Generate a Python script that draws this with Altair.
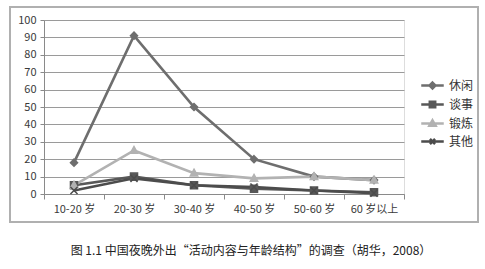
import altair as alt
import pandas as pd

ages = ["10-20 岁", "20-30 岁", "30-40 岁", "40-50 岁", "50-60 岁", "60 岁以上"]
series_names = ["休闲", "谈事", "锻炼", "其他"]
leisure = [18, 91, 50, 20, 10, 8]
talk = [5, 10, 5, 3, 2, 1]
exercise = [5, 25, 12, 9, 10, 8]
other = [2, 9, 5, 4, 2, 0.5]
y_ticks = list(range(0, 101, 10))
caption = "图 1.1  中国夜晚外出“活动内容与年龄结构”的调查（胡华，2008）"

colors = ["#6e6e6e", "#585858", "#b2b2b2", "#4c4c4c"]
marker_paths = [
    "M0,-1L1,0L0,1L-1,0Z",
    "M-1,-1H1V1H-1Z",
    "M0,-1.1L1.05,0.8H-1.05Z",
    "M-1,-1L1,1M-1,1L1,-1",
]
legend_paths = [
    "M-1.25,0H1.25M0,-0.33L0.33,0L0,0.33L-0.33,0Z",
    "M-1.25,0H1.25M-0.3,-0.3H0.3V0.3H-0.3Z",
    "M-1.25,0H1.25M0,-0.35L0.35,0.26H-0.35Z",
    "M-1.25,0H1.25M-0.28,-0.28L0.28,0.28M-0.28,0.28L0.28,-0.28",
]

rows = []
for name, vals in zip(series_names, [leisure, talk, exercise, other]):
    for a, v in zip(ages, vals):
        rows.append({"age": a, "series": name, "value": v})
df = pd.DataFrame(rows)

FONT = "Noto Sans CJK SC"

x_enc = alt.X(
    "age:N", sort=ages, title=None,
    scale=alt.Scale(domain=ages, paddingInner=0, paddingOuter=0),
    axis=alt.Axis(labelAngle=0, tickBand="extent", tickSize=5, labelPadding=4,
                  domainColor="#8a8a8a", tickColor="#8a8a8a", labelColor="#3a3a3a",
                  labelFont=FONT, labelFontSize=11, grid=False),
)
y_enc = alt.Y(
    "value:Q", title=None,
    scale=alt.Scale(domain=[0, 100], nice=False),
    axis=alt.Axis(values=y_ticks, tickSize=4, labelPadding=4, domainColor="#8a8a8a",
                  tickColor="#8a8a8a", gridColor="#9a9a9a", gridWidth=1,
                  labelColor="#3a3a3a", labelFont=FONT, labelFontSize=11),
)

sdom = alt.Scale(domain=series_names, range=colors)

lines = alt.Chart(df).mark_line(strokeWidth=2.6).encode(
    x=x_enc, y=y_enc,
    stroke=alt.Stroke("series:N", scale=sdom, legend=None),
    detail="series:N",
)

markers = alt.Chart(df).mark_point(filled=True, size=50, strokeWidth=1.5, opacity=1).encode(
    x=x_enc, y=y_enc,
    shape=alt.Shape("series:N", scale=alt.Scale(domain=series_names, range=marker_paths), legend=None),
    fill=alt.Fill("series:N", scale=sdom, legend=None),
    stroke=alt.Stroke("series:N", scale=sdom, legend=None),
)

leg = alt.Legend(title=None, orient="none", legendX=378, legendY=55,
                 labelFont=FONT, labelFontSize=12, labelColor="#333333",
                 symbolSize=324, symbolStrokeWidth=2.5, rowPadding=0, labelOffset=6)

legend_layer = alt.Chart(df).mark_point(filled=True, strokeWidth=2.5, opacity=1).encode(
    x=x_enc, y=y_enc,
    shape=alt.Shape("series:N", scale=alt.Scale(domain=series_names, range=legend_paths), legend=leg),
    fill=alt.Fill("series:N", scale=sdom, legend=leg),
    stroke=alt.Stroke("series:N", scale=sdom, legend=leg),
).transform_filter("false")

frame_df = pd.DataFrame({"k": [0]})
frame = alt.Chart(frame_df).mark_rect(
    fill="#ffffff", fillOpacity=0, stroke="#b0b0b0", strokeWidth=2
).encode(
    x=alt.value(-34), x2=alt.value(434), y=alt.value(-13), y2=alt.value(202)
)

chart = alt.layer(frame, lines, markers, legend_layer).resolve_scale(
    shape="independent", fill="independent", stroke="independent"
).properties(
    width=360, height=174,
    autosize="none",
    padding={"left": 44, "top": 20, "right": 81, "bottom": 75},
    title=alt.TitleParams(caption, orient="bottom", anchor="middle", frame="group",
                          offset=23, dx=27, font=FONT, fontSize=12, fontWeight="normal",
                          color="#222222"),
).configure_view(stroke=None).configure(background="white")

chart.save("out.html", embed_options={"renderer": "svg", "actions": False})
